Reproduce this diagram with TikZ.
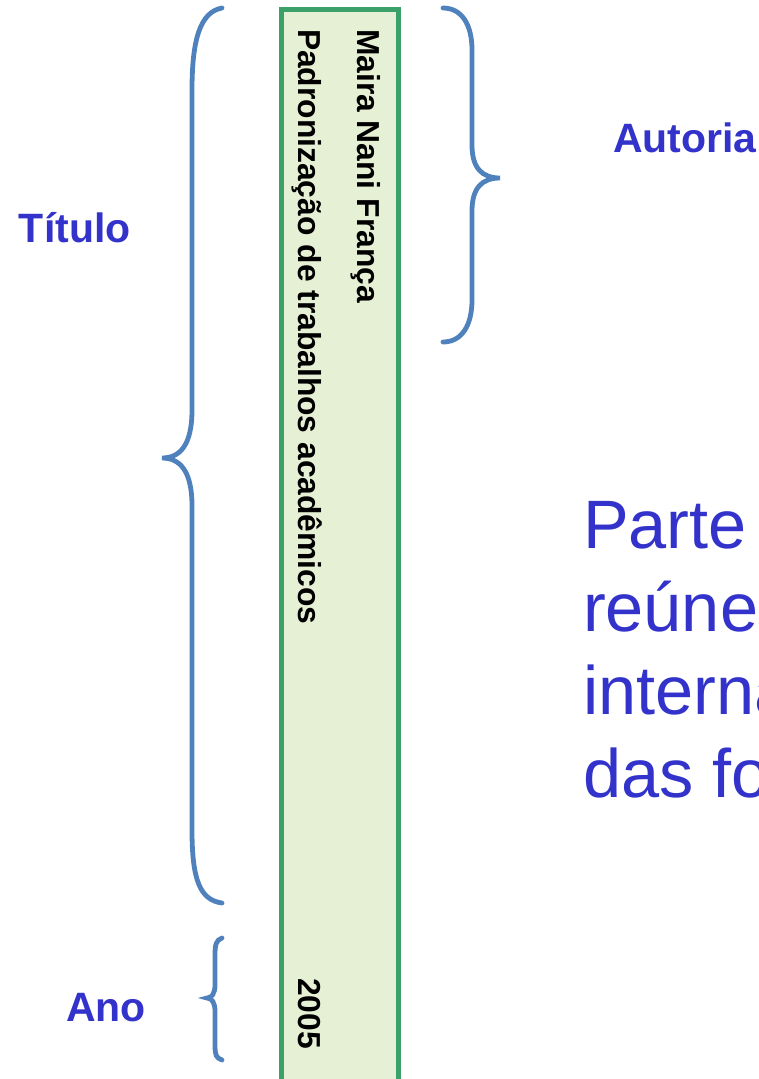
\documentclass[tikz,border=0pt]{standalone}
\usepackage{fontspec}
\setmainfont{Liberation Sans}
\definecolor{boxgreen}{RGB}{60,160,105}
\definecolor{boxfill}{RGB}{230,240,212}
\definecolor{lblblue}{RGB}{51,51,204}
\definecolor{bracecol}{RGB}{79,129,189}
\tikzset{
  spine/.style={inner sep=0pt, outer sep=0pt, rotate=-90, anchor=base west, font=\fontsize{31.8}{36}\selectfont\bfseries},
  lbl/.style={inner sep=0pt, outer sep=0pt, anchor=base west, text=lblblue, font=\fontsize{41}{48}\selectfont\bfseries},
  bigtxt/.style={inner sep=0pt, outer sep=0pt, anchor=base west, text=lblblue, font=\fontsize{68.5}{83}\selectfont},
  bracestyle/.style={draw=bracecol, line width=4.8pt, line cap=round}
}
\begin{document}
\begin{tikzpicture}[x=1pt,y=-1pt]
\useasboundingbox (0,0) rectangle (759,1079);
\begin{scope}
\clip (0,0) rectangle (759,1079);
\node[draw=boxgreen, fill=boxfill, line width=5pt, minimum width=117pt, minimum height=1090pt, anchor=north west, inner sep=0pt, outer sep=0pt] (spinebox) at (281.5,9) {};
\node[bigtxt] (l1) at (583,548) {Parte};
\node[bigtxt] (l2) at (583,631) {reúne};
\node[bigtxt] (l3) at (583,714) {interna};
\node[bigtxt] (l4) at (583,797) {das fo};
\end{scope}
\node[spine] (autor) at (357,29) {Maira Nani França};
\node[spine] (titulo) at (298,29) {Padronização de trabalhos acadêmicos};
\node[spine] (ano) at (298,978) {2005};
\node[lbl] (ltitulo) at (19,242) {Título};
\node[lbl] (lautoria) at (613,152) {Autoria};
\node[lbl] (lano) at (66,1021) {Ano};
% braces
\draw[bracestyle] (222,8) .. controls (200,12) and (192,40) .. (192,90) -- (192,410)
  .. controls (192,445) and (180,458) .. (162,458)
  .. controls (180,458) and (192,471) .. (192,506) -- (192,830)
  .. controls (192,880) and (200,900) .. (222,903);
\draw[bracestyle] (443,8) .. controls (462,8) and (472,25) .. (472,50) -- (472,145)
  .. controls (472,168) and (482,178) .. (500,178)
  .. controls (482,178) and (472,188) .. (472,211) -- (472,300)
  .. controls (472,325) and (462,342) .. (443,342);
\draw[bracestyle] (222,938) .. controls (216,940) and (215,945) .. (215,955) -- (215,985)
  .. controls (215,993) and (212,998) .. (207,998)
  .. controls (212,998) and (215,1003) .. (215,1011) -- (215,1045)
  .. controls (215,1055) and (216,1058) .. (222,1060);
\end{tikzpicture}
\end{document}
